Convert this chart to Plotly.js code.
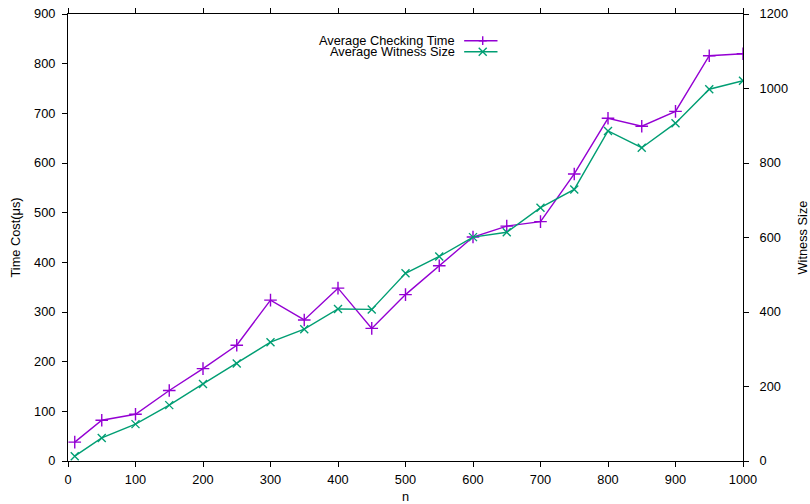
<!DOCTYPE html>
<html>
<head>
<meta charset="utf-8">
<script src="https://cdn.plot.ly/plotly-3.0.1.min.js"></script>
<style>html,body{margin:0;padding:0;background:#fff;}#chart{width:810px;height:504px;}</style>
</head>
<body>
<div id="chart"></div>
<script>
const nValues = [10, 50, 100, 150, 200, 250, 300, 350, 400, 450, 500, 550, 600, 650, 700, 750, 800, 850, 900, 950, 1000];
const checkingTime = [38, 82, 94, 142, 186, 233, 324, 284, 348, 267, 335, 393, 451, 473, 482, 578, 690, 674, 704, 816, 820];
const witnessSize = [13, 62, 99, 150, 207, 262, 319, 354, 408, 407, 504, 549, 601, 614, 680, 729, 886, 841, 907, 998, 1021];
const seriesNames = ["Average Checking Time", "Average Witness Size"];
const xTicks = [0, 100, 200, 300, 400, 500, 600, 700, 800, 900, 1000];
const yTicks = [0, 100, 200, 300, 400, 500, 600, 700, 800, 900];
const y2Ticks = [0, 200, 400, 600, 800, 1000, 1200];

const purple = "#9400D3";
const green = "#009E73";
const fontFam = "Liberation Sans, Arial, sans-serif";
const fs = 12.8;

const traces = [
  {x: nValues, y: checkingTime, name: seriesNames[0], type: "scatter", mode: "lines+markers",
   line: {color: purple, width: 1.4}, marker: {symbol: "cross-thin-open", size: 9, color: purple, line: {color: purple, width: 1.4}},
   yaxis: "y", showlegend: false},
  {x: nValues, y: witnessSize, name: seriesNames[1], type: "scatter", mode: "lines+markers",
   line: {color: green, width: 1.4}, marker: {symbol: "x-thin-open", size: 8, color: green, line: {color: green, width: 1.4}},
   yaxis: "y2", showlegend: false}
];

// custom gnuplot-style legend (text right, sample on the right side)
const lgTextX = 0.5759, lgY1 = 0.9403, lgY2 = 0.9157;
const lgL0 = 0.5869, lgL1 = 0.6363, lgM = 0.6144;
const dx = 4 / 675, dy = 4 / 447;
const shapes = [
  {type: "line", xref: "paper", yref: "paper", x0: lgL0, x1: lgL1, y0: lgY1, y1: lgY1, line: {color: purple, width: 1.4}},
  {type: "line", xref: "paper", yref: "paper", x0: lgL0, x1: lgL1, y0: lgY2, y1: lgY2, line: {color: green, width: 1.4}},
  {type: "path", xref: "paper", yref: "paper",
   path: `M${lgM - dx},${lgY1} L${lgM + dx},${lgY1} M${lgM},${lgY1 - dy * 1.1} L${lgM},${lgY1 + dy * 1.1}`,
   line: {color: purple, width: 1.4}},
  {type: "path", xref: "paper", yref: "paper",
   path: `M${lgM - dx},${lgY2 - dy} L${lgM + dx},${lgY2 + dy} M${lgM - dx},${lgY2 + dy} L${lgM + dx},${lgY2 - dy}`,
   line: {color: green, width: 1.4}}
];
const annotations = [
  {xref: "paper", yref: "paper", x: lgTextX, y: lgY1, xanchor: "right", yanchor: "middle", text: seriesNames[0], showarrow: false, font: {family: fontFam, size: fs, color: "#000"}},
  {xref: "paper", yref: "paper", x: lgTextX, y: lgY2, xanchor: "right", yanchor: "middle", text: seriesNames[1], showarrow: false, font: {family: fontFam, size: fs, color: "#000"}}
];

const axisCommon = {
  showgrid: false, zeroline: false, showline: true, linecolor: "#000", linewidth: 1,
  ticks: "outside", ticklen: 5, tickcolor: "#000", tickwidth: 1,
  tickfont: {family: fontFam, size: fs, color: "#000"}
};

const layout = {
  width: 810, height: 504,
  margin: {l: 68, r: 67, t: 14, b: 43},
  paper_bgcolor: "#fff", plot_bgcolor: "#fff",
  font: {family: fontFam, size: fs, color: "#000"},
  showlegend: false,
  xaxis: Object.assign({}, axisCommon, {
    range: [0, 1000], tickvals: xTicks, ticktext: xTicks.map(String), mirror: "ticks", ticklabelstandoff: 2,
    title: {text: "n", font: {family: fontFam, size: fs, color: "#000"}, standoff: 18}
  }),
  yaxis: Object.assign({}, axisCommon, {
    range: [0, 900], tickvals: yTicks, ticktext: yTicks.map(String), mirror: true, ticklabelstandoff: 4,
    title: {text: "Time Cost(μs)", font: {family: fontFam, size: fs, color: "#000"}, standoff: 10}
  }),
  yaxis2: Object.assign({}, axisCommon, {
    range: [0, 1200], tickvals: y2Ticks, ticktext: y2Ticks.map(String), overlaying: "y", side: "right", ticklabelstandoff: 8,
    title: {text: "Witness Size", font: {family: fontFam, size: fs, color: "#000"}, standoff: 24}
  }),
  shapes: shapes,
  annotations: annotations
};

Plotly.newPlot("chart", traces, layout, {displayModeBar: false, staticPlot: true});
</script>
</body>
</html>
